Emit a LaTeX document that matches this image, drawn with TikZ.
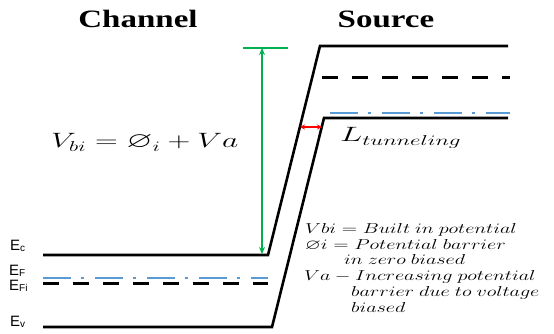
\documentclass[tikz,border=0pt]{standalone}
\usepackage{amssymb}
\usepackage{fontspec}
\setmainfont{Liberation Serif}
\newfontfamily\lsans{Liberation Sans}
\usetikzlibrary{arrows.meta}
\definecolor{bandblue}{RGB}{91,155,213}
\definecolor{vgreen}{RGB}{0,176,80}
\newcommand{\lsub}[1]{\raisebox{-1.5pt}{\fontsize{10}{10}\selectfont #1}}
\newcommand{\legtext}[1]{\scalebox{1.4}[1]{\fontsize{14.5}{14.5}\selectfont $#1$}}
\begin{document}
\begin{tikzpicture}[x=1pt,y=-1pt,
  band/.style={line width=2.6pt, line join=miter},
  fermi/.style={line width=3pt, dash pattern=on 16pt off 14pt},
  intr/.style={line width=1.6pt, color=bandblue, dash pattern=on 28pt off 10pt on 3pt off 11pt},
  ttl/.style={anchor=base, inner sep=0pt},
  lvl/.style={anchor=base west, inner sep=0pt, font=\lsans\fontsize{15}{15}\selectfont},
  leg/.style={anchor=base west, inner sep=0pt}]
\useasboundingbox (0,0) rectangle (554,334);
% titles
\node[ttl] (tch) at (138,28) {\scalebox{1.32}[1]{\fontsize{25}{25}\selectfont\bfseries Channel}};
\node[ttl] (tsrc) at (386,28) {\scalebox{1.32}[1]{\fontsize{25}{25}\selectfont\bfseries Source}};
% band coordinates
\coordinate (ec0) at (43,255);
\coordinate (ec1) at (268,255);
\coordinate (ec2) at (320,46);
\coordinate (ec3) at (508,46);
\coordinate (ev0) at (43,327);
\coordinate (ev1) at (272,327);
\coordinate (ev2) at (324,118);
\coordinate (ev3) at (508,118);
\draw[band] (ec0) -- (ec1) -- (ec2) -- (ec3);
\draw[band] (ev0) -- (ev1) -- (ev2) -- (ev3);
% fermi levels
\coordinate (fs0) at (322,78);
\coordinate (fs1) at (510,78);
\coordinate (fc0) at (43,283);
\coordinate (fc1) at (268,283);
\draw[fermi] (fs0) -- (fs1);
\draw[fermi] (fc0) -- (fc1);
\coordinate (is0) at (330,113);
\coordinate (is1) at (510,113);
\coordinate (ic0) at (43,278);
\coordinate (ic1) at (268,278);
\draw[intr] (is0) -- (is1);
\draw[intr] (ic0) -- (ic1);
% green Vbi arrow
\coordinate (gt0) at (243,48);
\coordinate (gt1) at (288,48);
\coordinate (ga0) at (262,48);
\coordinate (ga1) at (262,254);
\draw[vgreen, line width=1.3pt] (gt0) -- (gt1);
\draw[vgreen, line width=1.4pt, {Stealth[length=7pt,width=6pt]}-{Stealth[length=7pt,width=6pt]}] (ga0) -- (ga1);
% red tunneling arrow
\coordinate (r0) at (300,127);
\coordinate (r1) at (322,127);
\draw[red, line width=1.4pt, {Stealth[length=5pt,width=5pt]}-{Stealth[length=5pt,width=5pt]}] (r0) -- (r1);
% equation
\node[leg] (eq) at (51,148) {\scalebox{1.52}[1]{\fontsize{22}{22}\selectfont $V_{bi} = \varnothing_i + Va$}};
\node[leg] (lt) at (340,142) {\scalebox{1.6}[1]{\fontsize{21}{21}\selectfont $L_{tunneling}$}};
% level labels
\node[lvl] (Ec) at (10,250) {E\lsub{c}};
\node[lvl] (Ef) at (9,275) {E\lsub{F}};
\node[lvl] (Efi) at (9,290) {E\lsub{Fi}};
\node[lvl] (Evl) at (10,326) {E\lsub{v}};
% legend
\node[leg] (l1) at (305,233) {\legtext{Vbi = Built\ in\ potential}};
\node[leg] (l2) at (305,249) {\legtext{\varnothing i = Potential\ barrier}};
\node[leg] (l3) at (344,264) {\legtext{in\ zero\ biased}};
\node[leg] (l4) at (304,280) {\legtext{Va - Increasing\ potential}};
\node[leg] (l5) at (351,296) {\legtext{barrier\ due\ to\ voltage}};
\node[leg] (l6) at (351,312) {\legtext{biased}};
\end{tikzpicture}
\end{document}
